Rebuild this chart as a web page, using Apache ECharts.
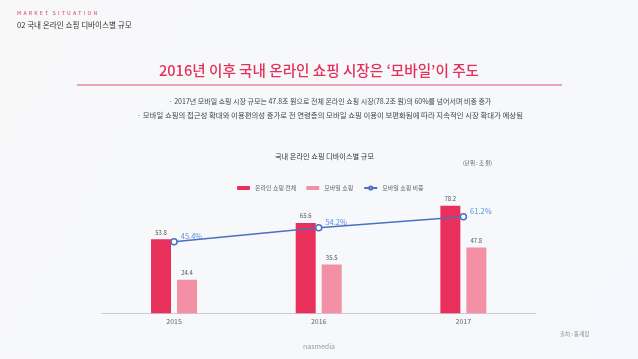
<!DOCTYPE html>
<html><head><meta charset="utf-8">
<script src="https://cdn.jsdelivr.net/npm/echarts@6/dist/echarts.min.js"></script>
<style>html,body{margin:0;padding:0;background:#f6f8fb;}#c{width:638px;height:359px;}</style>
</head><body><div id="c"></div>
<script>
const categories = ['2015', '2016', '2017'];
const totalOnline = [53.8, 65.6, 78.2];
const mobileShopping = [24.4, 35.5, 47.8];
const mobileShare = [45.4, 54.2, 61.2];
const seriesNames = ['온라인 쇼핑 전체', '모바일 쇼핑', '모바일 쇼핑 비중'];

const F = '"Noto Sans CJK KR", "Noto Sans", sans-serif';
const chart = echarts.init(document.getElementById('c'), null, {renderer: 'canvas'});
chart.setOption({
  backgroundColor: new echarts.graphic.LinearGradient(0, 0, 1, 1, [
    {offset: 0, color: '#f8f8f9'}, {offset: 1, color: '#f5f8fc'}]),
  animation: false,
  textStyle: {fontFamily: F},
  graphic: [
    {type: 'text', left: 17, top: 11, style: {text: 'M  A  R  K  E  T    S  I  T  U  A  T  I  O  N', fill: '#d4587a', font: '500 5px ' + F}},
    {type: 'text', left: 17, top: 21, style: {text: '02 국내 온라인 쇼핑 디바이스별 규모', fill: '#333', font: '7.6px ' + F}},
    {type: 'text', x: 319, y: 70, style: {text: '2016년 이후 국내 온라인 쇼핑 시장은 ‘모바일’이 주도', fill: '#e4305a', font: '500 14.6px ' + F, textAlign: 'center', textVerticalAlign: 'middle'}},
    {type: 'rect', shape: {x: 77, y: 84.5, width: 485, height: 1}, style: {fill: '#e0506e'}},
    {type: 'text', x: 330, y: 101, style: {text: '· 2017년 모바일 쇼핑 시장 규모는 47.8조 원으로 전체 온라인 쇼핑 시장(78.2조 원)의 60%를 넘어서며 비중 증가', fill: '#444', font: '7px ' + F, textAlign: 'center', textVerticalAlign: 'middle'}},
    {type: 'text', x: 330, y: 115, style: {text: '· 모바일 쇼핑의 접근성 확대와 이용편의성 증가로 전 연령층의 모바일 쇼핑 이용이 보편화됨에 따라 지속적인 시장 확대가 예상됨', fill: '#444', font: '7.4px ' + F, textAlign: 'center', textVerticalAlign: 'middle'}},
    {type: 'text', left: 275, top: 153, style: {text: '국내 온라인 쇼핑 디바이스별 규모', fill: '#333', font: '7.2px ' + F}},
    {type: 'text', left: 463, top: 160, style: {text: '(단위 : 조 원)', fill: '#555', font: '5.5px ' + F}},
    {type: 'text', left: 560, top: 331, style: {text: '출처 : 통계청', fill: '#888', font: '5.5px ' + F}},
    {type: 'text', left: 'center', top: 343, style: {text: 'nasmedia', fill: '#999', font: '7px ' + F}}
  ],
  legend: {
    left: 232, top: 180, itemWidth: 13, itemHeight: 4, itemGap: 10,
    textStyle: {fontSize: 6, color: '#666', fontFamily: F},
    data: seriesNames
  },
  grid: {left: 101.7, right: 102.3, top: 175.7, bottom: 45.7},
  xAxis: {
    type: 'category', data: categories,
    axisLine: {lineStyle: {color: '#c8ccd4'}}, axisTick: {show: false},
    axisLabel: {color: '#666', fontSize: 7, margin: 5, fontFamily: F}
  },
  yAxis: [
    {type: 'value', min: 0, max: 100, show: false, splitLine: {show: false}},
    {type: 'value', min: 0, max: 87.3, show: false, splitLine: {show: false}}
  ],
  series: [
    {name: seriesNames[0], type: 'bar', data: totalOnline, barWidth: 20, barGap: '30%',
      itemStyle: {color: '#e8305a'},
      label: {show: true, position: 'top', distance: 4, color: '#555', fontSize: 6, fontFamily: F}},
    {name: seriesNames[1], type: 'bar', data: mobileShopping, barWidth: 20,
      itemStyle: {color: '#f490a6'},
      label: {show: true, position: 'top', distance: 4, color: '#555', fontSize: 6, fontFamily: F}},
    {name: seriesNames[2], type: 'line', yAxisIndex: 1, data: mobileShare,
      symbol: 'circle', symbolSize: 6,
      lineStyle: {color: '#4a70c4', width: 1.5},
      itemStyle: {color: '#fff', borderColor: '#4a70c4', borderWidth: 1.5},
      label: {show: true, position: 'right', distance: 3, offset: [0, -6], color: '#5b8ee0', fontSize: 7.5, fontFamily: F,
        formatter: p => p.value + '%'},
      z: 5}
  ]
});
</script></body></html>
